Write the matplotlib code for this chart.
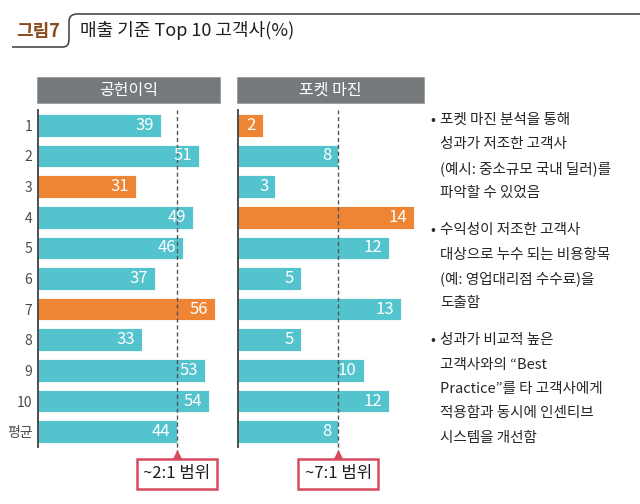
import matplotlib
matplotlib.use("Agg")
import matplotlib.pyplot as plt
from matplotlib.patches import Rectangle, PathPatch
from matplotlib.path import Path

plt.rcParams['font.family'] = ['Noto Sans CJK KR', 'DejaVu Sans']

# data
categories = ['1', '2', '3', '4', '5', '6', '7', '8', '9', '10', '평균']
contrib_margin = [39, 51, 31, 49, 46, 37, 56, 33, 53, 54, 44]
pocket_margin = [2, 8, 3, 14, 12, 5, 13, 5, 10, 12, 8]
contrib_highlight = ['3', '7']
pocket_highlight = ['1', '4']
panel_titles = ['공헌이익', '포켓 마진']
range_labels = ['~2:1 범위', '~7:1 범위']
title_tag = '그림7'
title_text = '매출 기준 Top 10 고객사(%)'
notes = [
    ['포켓 마진 분석을 통해', '성과가 저조한 고객사', '(예시: 중소규모 국내 딜러)를', '파악할 수 있었음'],
    ['수익성이 저조한 고객사', '대상으로 누수 되는 비용항목', '(예: 영업대리점 수수료)을', '도출함'],
    ['성과가 비교적 높은', '고객사와의 \u201cBest', 'Practice\u201d를 타 고객사에게', '적용함과 동시에 인센티브', '시스템을 개선함'],
]

TEAL = '#53C3CE'
ORANGE = '#EE8535'
HEADER = '#76797C'
CALLOUT = '#D74A5E'
TEXT = '#262626'

W, H = 640, 504
fig = plt.figure(figsize=(W / 100, H / 100), dpi=100)
fig.patch.set_facecolor('white')


# pixel helpers (top-left origin)
def fx(px):
    return px / W


def fy(py):
    return 1 - py / H


def px_axes(left, top, right, bottom):
    return fig.add_axes([fx(left), fy(bottom), (right - left) / W, (bottom - top) / H])


# overlay axes for title, headers and notes
over = fig.add_axes([0, 0, 1, 1])
over.set_xlim(0, W)
over.set_ylim(H, 0)
over.axis('off')

# title frame
verts = [(12, 47), (62, 47), (68, 47), (69, 44), (69, 38),
         (69, 22), (69, 16), (72, 14), (78, 14), (640, 14)]
codes = [Path.MOVETO, Path.LINETO, Path.CURVE4, Path.CURVE4, Path.CURVE4,
         Path.LINETO, Path.CURVE4, Path.CURVE4, Path.CURVE4, Path.LINETO]
over.add_patch(PathPatch(Path(verts, codes), fill=False, edgecolor='#4a4a4a', lw=1.2))
over.text(16, 31, title_tag, color='#8A4A1C', fontsize=13, fontweight='bold',
          ha='left', va='center')
over.text(80, 31, title_text, color='#1e1e1e', fontsize=13,
          ha='left', va='center')


def draw_panel(left, right, scale, values, highlight, header, label, show_rows):
    top, bottom = 110, 447
    ax = px_axes(left, top, right, bottom)
    colors = [ORANGE if c in highlight else TEAL for c in categories]
    ypos = list(range(len(categories)))
    ax.barh(ypos, values, height=0.74, color=colors, edgecolor='white',
            linewidth=0.6, zorder=2)
    ax.set_xlim(0, (right - left) / scale)
    ax.set_ylim(len(categories) - 0.5, -0.5)
    for s in ['top', 'right', 'bottom']:
        ax.spines[s].set_visible(False)
    ax.spines['left'].set_color('#4d4d4d')
    ax.spines['left'].set_linewidth(1.4)
    ax.set_xticks([])
    ax.tick_params(axis='y', length=0, pad=4)
    if show_rows:
        ax.set_yticks(ypos)
        ax.set_yticklabels(categories, fontsize=10, color='#4a4a4a')
    else:
        ax.set_yticks([])
    for y, v in zip(ypos, values):
        ax.annotate(str(v), xy=(v, y), xytext=(-5, 0), textcoords='offset points',
                    ha='right', va='center', color='white', fontsize=12, zorder=4)
    avg = values[-1]
    ax.axvline(avg, ymin=-0.02, ymax=1, color='#555555', lw=1.0,
               ls=(0, (3, 2)), zorder=3, clip_on=False)
    # callout box with pointer
    ax.plot([avg], [-0.025], transform=ax.get_xaxis_transform(), marker='^',
            ms=6, color=CALLOUT, clip_on=False, zorder=5)
    ax.annotate(label, xy=(avg, -0.08), xycoords=ax.get_xaxis_transform(),
                ha='center', va='center', fontsize=12, color='#1e1e1e',
                bbox=dict(boxstyle='square,pad=0.38', fc='white', ec=CALLOUT, lw=1.8),
                annotation_clip=False, zorder=6)
    # header box
    hx0, hx1 = left - 1, right + 1
    over.add_patch(Rectangle((hx0, 77), hx1 - hx0, 26, facecolor=HEADER,
                             edgecolor='#9a9c9e', lw=0.6))
    over.text((hx0 + hx1) / 2, 90, header, color='white', fontsize=11.5,
              ha='center', va='center')
    return ax


draw_panel(38, 219, 3.16, contrib_margin, contrib_highlight, panel_titles[0],
           range_labels[0], True)
draw_panel(237.5, 423, 12.6, pocket_margin, pocket_highlight, panel_titles[1],
           range_labels[1], False)

# notes on the right
y = 120
for para in notes:
    over.text(430, y, '•', color=TEXT, fontsize=10.5, ha='left', va='center')
    for line in para:
        over.text(440, y, line, color=TEXT, fontsize=10.5, ha='left', va='center')
        y += 24.3
    y += 13

fig.savefig('out.png', dpi=100)
